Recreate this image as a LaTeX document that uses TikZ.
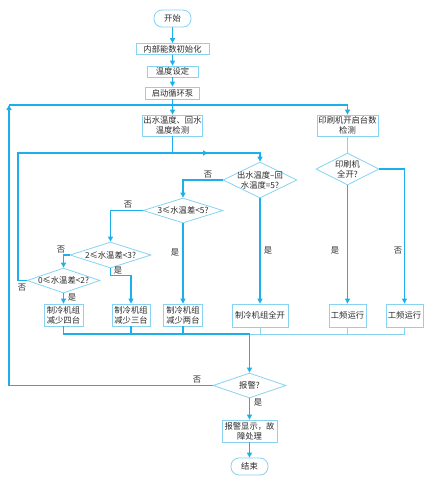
\documentclass[tikz,border=0pt]{standalone}
\usepackage{fontspec}
\setmainfont{Noto Sans CJK SC}
\usetikzlibrary{shapes.geometric,arrows.meta}
\definecolor{conn}{HTML}{1CAFEA}
\definecolor{edge}{HTML}{86D4F2}
\definecolor{ink}{HTML}{2A2A2A}
\begin{document}
\begin{tikzpicture}[x=1pt,y=-1pt, font=\fontsize{8.3}{10}\selectfont, text=ink,
 box/.style={draw=edge, line width=0.8pt, fill=white, inner sep=0pt, align=center},
 term/.style={box, rounded corners=8pt},
 dia/.style={draw=edge, line width=0.8pt, diamond, inner sep=0pt},
 lbl/.style={inner sep=0pt, align=center},
 cn/.style={draw=conn, line width=1.1pt},
 cl/.style={draw=edge, line width=0.8pt},
 ar/.style={cn, -{Triangle[length=5pt,width=5pt]}},
]
\useasboundingbox (0,0) rectangle (433,483);
\fill[white] (0,0) rectangle (433,483);
% nodes
\node[term, minimum width=37pt, minimum height=17pt] (start) at (172.5,18.5) {开始};
\node[box, minimum width=73pt, minimum height=11pt] (init) at (172.5,49) {内部能数初始化};
\node[box, minimum width=51pt, minimum height=11pt] (tset) at (172.5,71.5) {温度设定};
\node[box, minimum width=54pt, minimum height=12pt] (pump) at (172.5,93) {启动循环泵};
\node[box, minimum width=60pt, minimum height=21pt] (wt) at (172.5,125.5) {出水温度、回水\\温度检测};
\node[box, minimum width=61pt, minimum height=21pt] (pc) at (347.5,125.5) {印刷机开启台数\\检测};

\node[dia, minimum width=74pt, minimum height=36pt] (d1) at (260,180) {};
\node[lbl] (d1t) at (d1) {出水温度–回\\水温度=5?};
\node[dia, minimum width=80pt, minimum height=25pt] (d2) at (183,210.5) {};
\node[lbl] (d2t) at (d2) {3≤水温差<5?};
\node[dia, minimum width=81pt, minimum height=26pt] (d3) at (110.5,255) {};
\node[lbl] (d3t) at (d3) {2≤水温差<3?};
\node[dia, minimum width=73pt, minimum height=25pt] (d4) at (63.5,280.5) {};
\node[lbl] (d4t) at (d4) {0≤水温差<2?};
\node[dia, minimum width=63pt, minimum height=32pt] (d5) at (347.5,169) {};
\node[lbl] (d5t) at (d5) {印刷机\\全开?};
\node[dia, minimum width=73pt, minimum height=25pt] (d6) at (249.5,385.5) {};
\node[lbl] (d6t) at (d6) {报警?};

\node[box, minimum width=39pt, minimum height=22pt] (b4) at (63.5,315) {制冷机组\\减少四台};
\node[box, minimum width=38pt, minimum height=22pt] (b3) at (131,315) {制冷机组\\减少三台};
\node[box, minimum width=39pt, minimum height=22pt] (b2) at (183,315) {制冷机组\\减少两台};
\node[box, minimum width=56pt, minimum height=23pt] (ba) at (260,315.5) {制冷机组全开};
\node[box, minimum width=37pt, minimum height=23pt] (g1) at (347.5,315.5) {工频运行};
\node[box, minimum width=37pt, minimum height=23pt] (g2) at (404.5,315.5) {工频运行};
\node[box, minimum width=55pt, minimum height=22pt] (al) at (249.5,431) {报警显示，故\\障处理};
\node[term, minimum width=37pt, minimum height=17pt] (end) at (249.5,466.5) {结束};

% coordinates
\coordinate (tl) at (9,105);
\coordinate (tr) at (347.5,105);
\coordinate (ml) at (18,153);
\coordinate (mr) at (260,153);
\coordinate (mj) at (208,153);
\coordinate (bl) at (63.5,334);
\coordinate (bj) at (249.5,334);
\coordinate (br) at (404.5,334);

% connectors
\draw[ar] (start) -- (init);
\draw[ar] (init) -- (tset);
\draw[ar] (tset) -- (pump);
\draw[ar] (pump) -- (wt);
\draw[cn] (tl) -- (tr);
\draw[ar] (tr) -- (pc);
\draw[ar] (wt.south) |- (mr) -- (d1.north);
\draw[ar] (d4.west) -| (ml) -- (mj);
\draw[ar] (d1.west) -| (d2.north);
\draw[ar] (d2.west) -| (d3.north);
\draw[ar] (d3.west) -| (d4.north);
\draw[ar] (d4.south) -- (b4.north);
\draw[ar] (d3.south) -- ++(0,7) -| (b3.north);
\draw[ar] (d2.south) -- (b2.north);
\draw[ar] (d1.south) -- (ba.north);
\draw[cl] (pc.south) -- (d5.north);
\draw[ar] (d5.south) -- (g1.north);
\draw[ar] (d5.east) -| (g2.north);

\draw[cn] (b4.south) -- (bl) -- (bj);
\draw[cn] (b3.south) -- (b3.south |- bl);
\draw[cn] (b2.south) -- (b2.south |- bl);
\draw[cl] (bj) -- (br);
\draw[cl] (ba.south) -- (ba.south |- bl);
\draw[cl] (g1.south) -- (g1.south |- bl);
\draw[cl] (g2.south) -- (br);
\draw[ar] (bj) -- (d6.north);
\draw[ar] (d6.west) -| (tl);
\draw[ar] (d6.south) -- (al.north);
\draw[ar] (al) -- (end);

% labels
\node[lbl] (l1) at (208,175) {否};
\node[lbl] (l2) at (128,205) {否};
\node[lbl] (l3) at (61,250) {否};
\node[lbl] (l4) at (22,288) {否};
\node[lbl] (l5) at (72,298) {是};
\node[lbl] (l6) at (118,271) {是};
\node[lbl] (l7) at (175,253) {是};
\node[lbl] (l8) at (268,251) {是};
\node[lbl] (l9) at (335,251) {是};
\node[lbl] (l10) at (398,251) {否};
\node[lbl] (l11) at (197,380) {否};
\node[lbl] (l12) at (258,403) {是};
\end{tikzpicture}
\end{document}
